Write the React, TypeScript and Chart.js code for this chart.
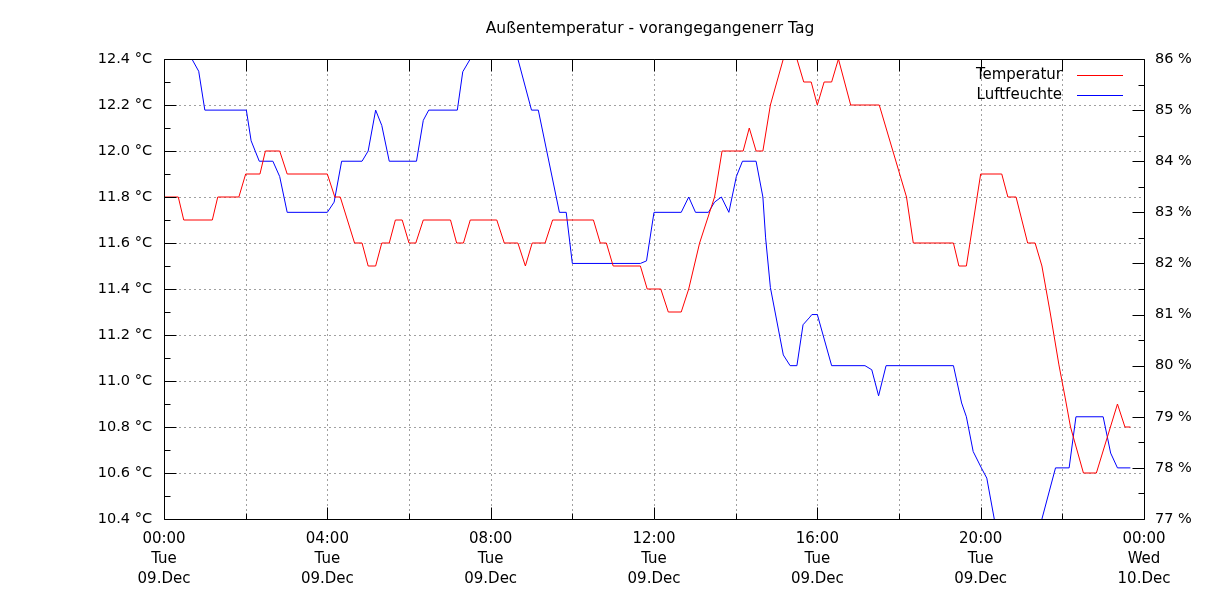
import React, { useEffect, useRef } from 'react';
import { Chart, registerables } from 'chart.js';

Chart.register(...registerables);

const chartTitle = 'Außentemperatur - vorangegangenerr Tag';
const seriesNames = ['Temperatur', 'Luftfeuchte'];
const seriesColors = ['#ff0000', '#0000ff'];

// minutes since 09.Dec 00:00
const tempTimes = [
  0, 21, 29, 71, 79, 110, 120, 141, 149, 170, 181, 240, 251, 259, 280, 291, 300, 311, 320, 331,
  340, 350, 360, 370, 381, 421, 430, 440, 450, 489, 500, 520, 531, 541, 560, 571, 631, 641, 650, 660,
  700, 710, 730, 741, 760, 771, 787, 809, 820, 851, 860, 870, 880, 891, 910, 930, 940, 951, 960, 970,
  981, 991, 1009, 1051, 1071, 1091, 1101, 1160, 1168, 1179, 1200, 1231, 1240, 1252, 1269, 1280, 1290, 1302, 1315, 1324,
  1332, 1351, 1370, 1401, 1412, 1420,
];
const tempValues = [
  11.8, 11.8, 11.7, 11.7, 11.8, 11.8, 11.9, 11.9, 12.0, 12.0, 11.9, 11.9, 11.8, 11.8, 11.6, 11.6, 11.5, 11.5, 11.6, 11.6,
  11.7, 11.7, 11.6, 11.6, 11.7, 11.7, 11.6, 11.6, 11.7, 11.7, 11.6, 11.6, 11.5, 11.6, 11.6, 11.7, 11.7, 11.6, 11.6, 11.5,
  11.5, 11.4, 11.4, 11.3, 11.3, 11.4, 11.6, 11.8, 12.0, 12.0, 12.1, 12.0, 12.0, 12.2, 12.4, 12.4, 12.3, 12.3, 12.2, 12.3,
  12.3, 12.4, 12.2, 12.2, 12.0, 11.8, 11.6, 11.6, 11.5, 11.5, 11.9, 11.9, 11.8, 11.8, 11.6, 11.6, 11.5, 11.3, 11.07, 10.93,
  10.8, 10.6, 10.6, 10.9, 10.8, 10.8,
];

const humTimes = [
  0, 41, 51, 60, 121, 128, 140, 160, 170, 181, 240, 250, 261, 291, 300, 311, 320, 331, 371, 381,
  389, 431, 439, 450, 458, 511, 520, 540, 550, 581, 591, 600, 700, 709, 720, 760, 771, 781, 800, 809,
  819, 830, 841, 850, 870, 880, 884, 891, 910, 920, 930, 939, 949, 952, 960, 981, 1030, 1040, 1050, 1061,
  1160, 1172, 1179, 1189, 1201, 1209, 1220, 1228, 1281, 1290, 1310, 1330, 1340, 1380, 1391, 1401, 1420,
];
const humValues = [
  86.4, 86.0, 85.76, 85.0, 85.0, 84.4, 84.0, 84.0, 83.7, 83.0, 83.0, 83.2, 84.0, 84.0, 84.2, 85.0, 84.7, 84.0, 84.0, 84.8,
  85.0, 85.0, 85.75, 86.0, 86.3, 86.3, 86.0, 85.0, 85.0, 83.0, 83.0, 82.0, 82.0, 82.05, 83.0, 83.0, 83.3, 83.0, 83.0, 83.2,
  83.3, 83.0, 83.7, 84.0, 84.0, 83.3, 82.5, 81.53, 80.21, 80.0, 80.0, 80.8, 80.95, 81.0, 81.0, 80.0, 80.0, 79.92, 79.41, 80.0,
  80.0, 79.27, 79.0, 78.32, 78.0, 77.8, 77.0, 76.6, 76.6, 77.0, 78.0, 78.0, 79.0, 79.0, 78.29, 78.0, 78.0,
];

const xTickTimes = ['00:00', '04:00', '08:00', '12:00', '16:00', '20:00', '00:00'];
const xTickDays = ['Tue', 'Tue', 'Tue', 'Tue', 'Tue', 'Tue', 'Wed'];
const xTickDates = ['09.Dec', '09.Dec', '09.Dec', '09.Dec', '09.Dec', '09.Dec', '10.Dec'];

const FONT = '"DejaVu Sans", sans-serif';

const framePlugin = {
  id: 'gnuFrame',
  beforeDatasetsDraw(chart: any) {
    const { ctx, chartArea: a, scales } = chart;
    const xs = scales.x;
    const ys = scales.y;
    ctx.save();
    ctx.strokeStyle = '#a0a0a0';
    ctx.lineWidth = 1;
    ctx.setLineDash([2, 3]);
    ctx.beginPath();
    for (let i = 1; i < 12; i++) {
      const px = Math.round(xs.getPixelForValue(i * 120)) + 0.5;
      ctx.moveTo(px, a.top);
      ctx.lineTo(px, a.bottom);
    }
    for (let i = 1; i < 10; i++) {
      const py = Math.round(ys.getPixelForValue(10.4 + i * 0.2)) + 0.5;
      ctx.moveTo(a.left, py);
      ctx.lineTo(a.right, py);
    }
    ctx.stroke();
    ctx.restore();
  },
  afterDatasetsDraw(chart: any) {
    const { ctx, chartArea: a, scales } = chart;
    const xs = scales.x;
    const ys = scales.y;
    const y1 = scales.y1;
    const L = Math.round(a.left) + 0.5;
    const R = Math.round(a.right) + 0.5;
    const T = Math.round(a.top) + 0.5;
    const B = Math.round(a.bottom) + 0.5;
    ctx.save();
    ctx.strokeStyle = '#000';
    ctx.lineWidth = 1;
    ctx.setLineDash([]);
    ctx.beginPath();
    ctx.rect(L, T, R - L, B - T);
    // x ticks
    for (let i = 0; i <= 12; i++) {
      const px = Math.round(xs.getPixelForValue(i * 120)) + 0.5;
      const lenB = i % 2 === 0 ? 12 : 6;
      ctx.moveTo(px, B);
      ctx.lineTo(px, B - lenB);
      ctx.moveTo(px, T);
      ctx.lineTo(px, T + 12);
    }
    // left ticks
    for (let i = 0; i <= 20; i++) {
      const py = Math.round(ys.getPixelForValue(10.4 + i * 0.1)) + 0.5;
      const len = i % 2 === 0 ? 12 : 6;
      ctx.moveTo(L, py);
      ctx.lineTo(L + len, py);
    }
    // right ticks
    for (let i = 0; i <= 18; i++) {
      const py = Math.round(y1.getPixelForValue(77 + i * 0.5)) + 0.5;
      const len = i % 2 === 0 ? 12 : 6;
      ctx.moveTo(R, py);
      ctx.lineTo(R - len, py);
    }
    ctx.stroke();

    // title
    ctx.fillStyle = '#000';
    ctx.font = '15.5px ' + FONT;
    ctx.textAlign = 'center';
    ctx.textBaseline = 'middle';
    ctx.fillText(chartTitle, 650, 29);

    // legend
    ctx.font = '15px ' + FONT;
    ctx.textAlign = 'right';
    seriesNames.forEach((name, i) => {
      const ly = 75 + i * 20;
      ctx.fillStyle = '#000';
      ctx.fillText(name, 1062, ly);
      ctx.strokeStyle = seriesColors[i];
      ctx.beginPath();
      ctx.moveTo(1077, ly + 0.5);
      ctx.lineTo(1123, ly + 0.5);
      ctx.stroke();
    });
    ctx.restore();
  },
};

export default function App() {
  const ref = useRef<HTMLCanvasElement | null>(null);

  useEffect(() => {
    if (!ref.current) return;
    const chart = new Chart(ref.current, {
      type: 'line',
      data: {
        datasets: [
          {
            label: seriesNames[0],
            data: tempTimes.map((t, i) => ({ x: t, y: tempValues[i] })),
            borderColor: seriesColors[0],
            borderWidth: 1,
            pointRadius: 0,
            tension: 0,
            yAxisID: 'y',
          },
          {
            label: seriesNames[1],
            data: humTimes.map((t, i) => ({ x: t, y: humValues[i] })),
            borderColor: seriesColors[1],
            borderWidth: 1,
            pointRadius: 0,
            tension: 0,
            yAxisID: 'y1',
          },
        ],
      },
      plugins: [framePlugin],
      options: {
        animation: false,
        responsive: false,
        maintainAspectRatio: false,
        color: '#000',
        layout: { padding: { top: 59, left: 0, right: 0, bottom: 0 } },
        plugins: {
          legend: { display: false },
          title: { display: false },
          tooltip: { enabled: false },
        },
        scales: {
          x: {
            type: 'linear',
            position: 'bottom',
            min: 0,
            max: 1440,
            grid: { display: false, drawTicks: false },
            border: { display: false },
            ticks: {
              stepSize: 240,
              autoSkip: false,
              maxRotation: 0,
              padding: 10,
              color: '#000',
              font: { family: FONT, size: 15, lineHeight: '20px' },
              callback: (v: any) => {
                const i = Math.round(Number(v) / 240);
                return [xTickTimes[i], xTickDays[i], xTickDates[i]];
              },
            },
            afterFit: (s: any) => {
              s.height = 81;
            },
          },
          y: {
            type: 'linear',
            position: 'left',
            min: 10.4,
            max: 12.4,
            grid: { display: false, drawTicks: false },
            border: { display: false },
            ticks: {
              stepSize: 0.2,
              padding: 12,
              color: '#000',
              font: { family: FONT, size: 14.5 },
              callback: (v: any) => Number(v).toFixed(1) + ' °C',
            },
            afterFit: (s: any) => {
              s.width = 164;
            },
          },
          y1: {
            type: 'linear',
            position: 'right',
            min: 77,
            max: 86,
            grid: { display: false, drawTicks: false },
            border: { display: false },
            ticks: {
              stepSize: 1,
              padding: 11,
              color: '#000',
              font: { family: FONT, size: 14.5 },
              callback: (v: any) => Math.round(Number(v)) + ' %',
            },
            afterFit: (s: any) => {
              s.width = 76;
            },
          },
        },
      },
    });
    return () => chart.destroy();
  }, []);

  return (
    <div style={{ position: 'absolute', left: 0, top: 0, width: 1220, height: 600, background: '#fff' }}>
      <canvas ref={ref} width={1220} height={600} style={{ display: 'block' }} />
    </div>
  );
}
